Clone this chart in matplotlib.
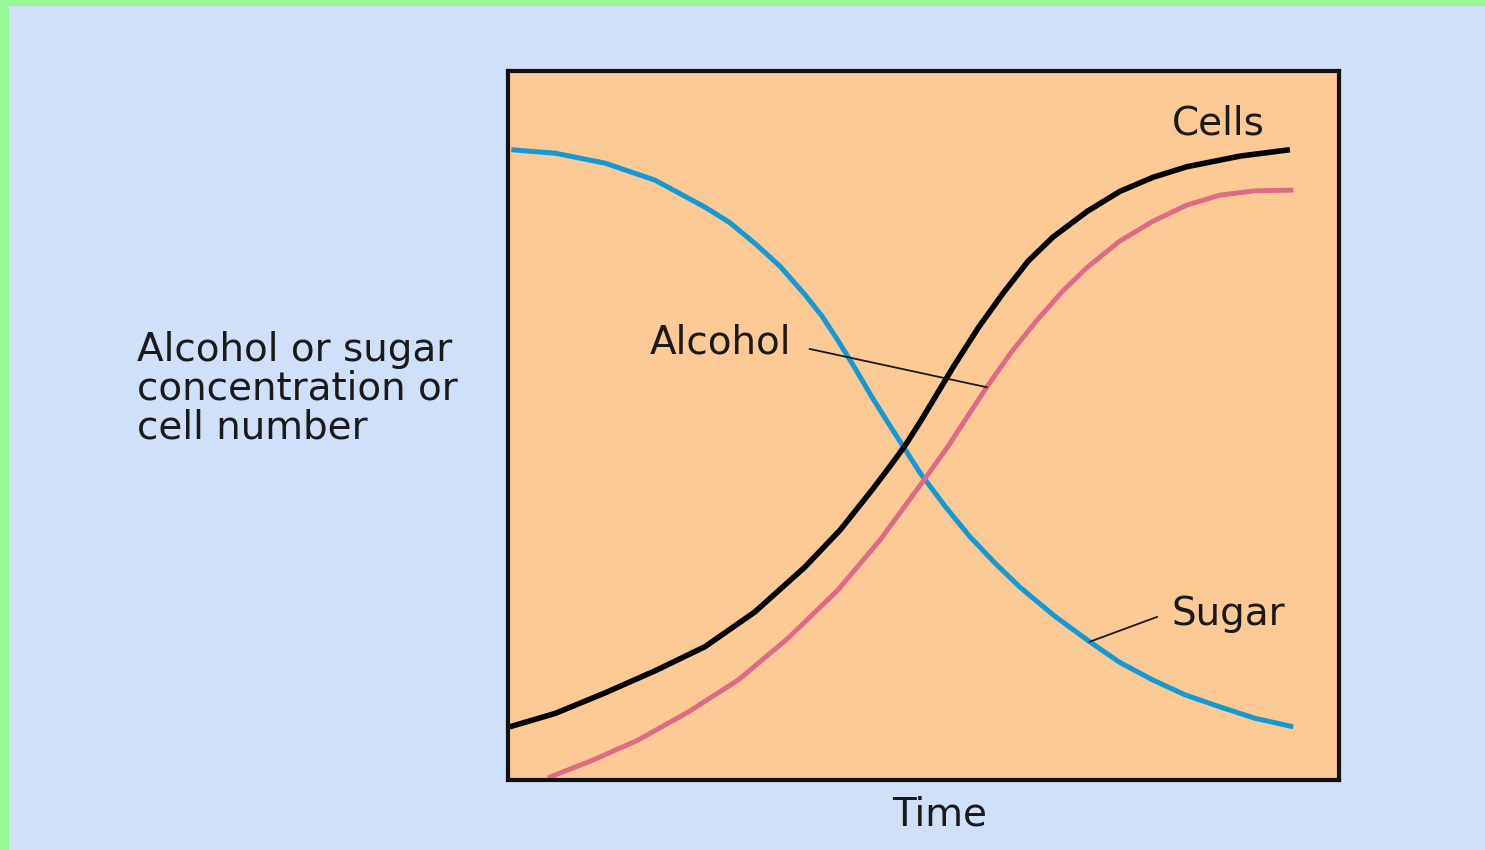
import matplotlib
matplotlib.use("Agg")
import matplotlib.pyplot as plt
from matplotlib.patches import Rectangle

# Fermentation curves, arbitrary units (time 0-100, level 0-100)
sugar_t = [0.4, 5.7, 11.7, 17.7, 23.7, 26.7, 29.7, 32.7, 35.7, 37.8, 39.7, 41.8, 43.8, 46.0,
           47.8, 49.6, 52.6, 55.6, 58.6, 61.6, 65.8, 70.0, 73.6, 77.6, 81.5, 85.7, 89.9, 94.5]
sugar_v = [88.9, 88.4, 87.0, 84.6, 80.8, 78.6, 75.7, 72.5, 68.5, 65.4, 62.0, 58.0, 54.0, 49.9,
           46.6, 43.3, 38.6, 34.3, 30.6, 27.2, 23.1, 19.5, 16.6, 14.1, 12.0, 10.3, 8.7, 7.5]

cells_t = [0.2, 5.7, 11.7, 17.7, 23.7, 29.7, 35.7, 40.0, 43.8, 46.0, 47.8, 49.6,
           51.6, 53.6, 56.6, 59.6, 62.6, 65.6, 69.7, 73.6, 77.6, 81.7, 88.1, 94.1]
cells_v = [7.5, 9.4, 12.3, 15.4, 18.8, 23.7, 30.0, 35.3, 40.9, 44.3, 47.2, 50.5,
           54.4, 58.3, 63.8, 68.7, 73.2, 76.6, 80.2, 83.0, 85.0, 86.5, 88.0, 88.9]

alcohol_t = [4.8, 10.2, 15.6, 21.7, 27.7, 33.7, 39.7, 44.8, 49.8, 52.8, 55.2,
             57.6, 60.6, 63.7, 66.7, 69.7, 73.6, 77.6, 81.7, 85.7, 89.9, 94.5]
alcohol_v = [0.3, 2.8, 5.6, 9.6, 14.1, 20.0, 26.8, 33.9, 41.9, 46.8, 51.1,
             55.4, 60.4, 64.9, 68.9, 72.3, 76.0, 78.8, 81.1, 82.5, 83.1, 83.2]

W, H = 1485, 850
BG_GREEN = "#98f898"
BG_BLUE = "#cfe0f8"
PANEL = "#fdc995"
BLUE = "#1399d6"
PINK = "#de6a86"
INK = "#1a1a1a"

fig = plt.figure(figsize=(W / 100, H / 100), dpi=100, facecolor=BG_GREEN)
fig.add_artist(Rectangle((9 / W, 0), 1, 1 - 6 / H, transform=fig.transFigure,
                         facecolor=BG_BLUE, edgecolor="none", zorder=0))

# plot panel (box edges in pixels: 508..1339 horizontally, 71..780 vertically)
x0, x1, y0, y1 = 508, 1339, 71, 780
ax = fig.add_axes([x0 / W, 1 - y1 / H, (x1 - x0) / W, (y1 - y0) / H])
ax.set_facecolor(PANEL)
ax.set_xlim(0, 100)
ax.set_ylim(0, 100)
ax.set_xticks([])
ax.set_yticks([])
for s in ax.spines.values():
    s.set_linewidth(3.0)
    s.set_color("#111111")

ax.plot(sugar_t, sugar_v, color=BLUE, lw=3.6, solid_capstyle="butt", solid_joinstyle="round")
ax.plot(alcohol_t, alcohol_v, color=PINK, lw=3.5, solid_capstyle="butt", solid_joinstyle="round")
ax.plot(cells_t, cells_v, color="black", lw=4.0, solid_capstyle="butt", solid_joinstyle="round")

fs = 28
ax.text(79.9, 91.0, "Cells", fontsize=fs, color=INK, va="baseline")
ax.text(17.1, 60.1, "Alcohol", fontsize=fs, color=INK, va="baseline")
ax.text(79.9, 21.9, "Sugar", fontsize=fs, color=INK, va="baseline")

# leader lines from the labels to their curves
ax.plot([36.3, alcohol_t[11]], [60.8, alcohol_v[11]], color=INK, lw=1.3)
ax.plot([78.1, sugar_t[21]], [23.0, sugar_v[21]], color=INK, lw=1.3)

fig.text(940 / W, 1 - 826 / H, "Time", fontsize=fs, color=INK,
         ha="center", va="baseline")
fig.text(137 / W, 1 - 331 / H, "Alcohol or sugar\nconcentration or\ncell number",
         fontsize=fs, color=INK, ha="left", va="top", linespacing=1.02)

fig.savefig("out.png", dpi=100, facecolor=BG_GREEN)
